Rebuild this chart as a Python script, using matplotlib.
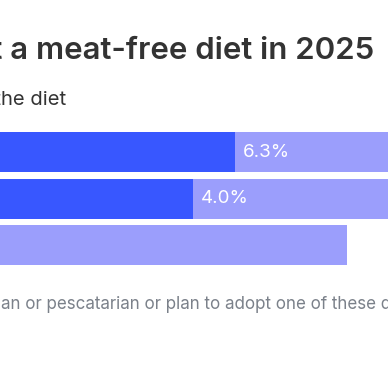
import matplotlib
matplotlib.use("Agg")
import matplotlib.pyplot as plt

# ---- data ----
categories = ["Vegetarian", "Vegan", "Pescatarian"]
current = [7.0, 6.16, 0.0]
planned = [6.3, 4.0, 9.24]
planned_labels = ["6.3%", "4.0%", ""]

title_prefix = "Share of Britons who follow or plan to adopt "
title_visible = "a meat-free diet in 2025"
subtitle_text = "Share of respondents who follow or plan to adopt the diet"
subtitle_visible = "he diet"
foot_prefix = "Respondents who are vegetarian, veg"
foot_visible = "an or pescatarian or plan to adopt one of these d"
foot_text = foot_prefix + foot_visible + "iets"

DARK = "#3857FF"
LIGHT = "#9B9EFC"
W, H = 388, 374
FONT = ["Inter", "DejaVu Sans"]

fig = plt.figure(figsize=(W / 100, H / 100), dpi=100)
fig.patch.set_facecolor("white")
renderer = fig.canvas.get_renderer()


def px(x, y):
    return x / W, 1 - y / H


def width_of(s, size, **kw):
    t = fig.text(0, 0, s, fontsize=size, family=FONT, **kw)
    w = t.get_window_extent(renderer).width
    t.remove()
    return w


def place(full, prefix, visible, x_start, x_end, y_base, color, **kw):
    base = 20
    size = base * (x_end - x_start) / width_of(visible, base, **kw)
    pw = width_of(prefix, size, **kw)
    fx, fy = px(x_start - pw, y_base)
    fig.text(fx, fy, full, fontsize=size, family=FONT, color=color,
             ha="left", va="baseline", **kw)


place(title_prefix + title_visible, title_prefix, title_visible, 10, 375, 59,
      "#333333", fontweight="semibold")
place(subtitle_text, subtitle_text[:-len(subtitle_visible)], subtitle_visible,
      1, 66, 105, "#333333")
place(foot_text, foot_prefix, foot_visible, 1, 393, 309, "#7b818a")

# ---- bars ----
x0 = -115
scale = 50
xmax = 12
row_pitch = 46.5
top_center = 152
ax_top = top_center - row_pitch / 2
ax_h = row_pitch * len(categories)
ax = fig.add_axes([x0 / W, 1 - (ax_top + ax_h) / H, xmax * scale / W, ax_h / H])
ax.set_xlim(0, xmax)
ax.set_ylim(len(categories) - 0.5, -0.5)
ypos = list(range(len(categories)))
bh = 40 / row_pitch
ax.barh(ypos, current, height=bh, color=DARK, linewidth=0)
ax.barh(ypos, planned, left=current, height=bh, color=LIGHT, linewidth=0)
for y, c, lab in zip(ypos, current, planned_labels):
    ax.annotate(lab, (c, y), xytext=(8, 0), textcoords="offset pixels",
                ha="left", va="center", color="white", fontsize=13.5,
                family=FONT)
ax.axis("off")

fig.savefig("out.png", dpi=100, facecolor="white")
